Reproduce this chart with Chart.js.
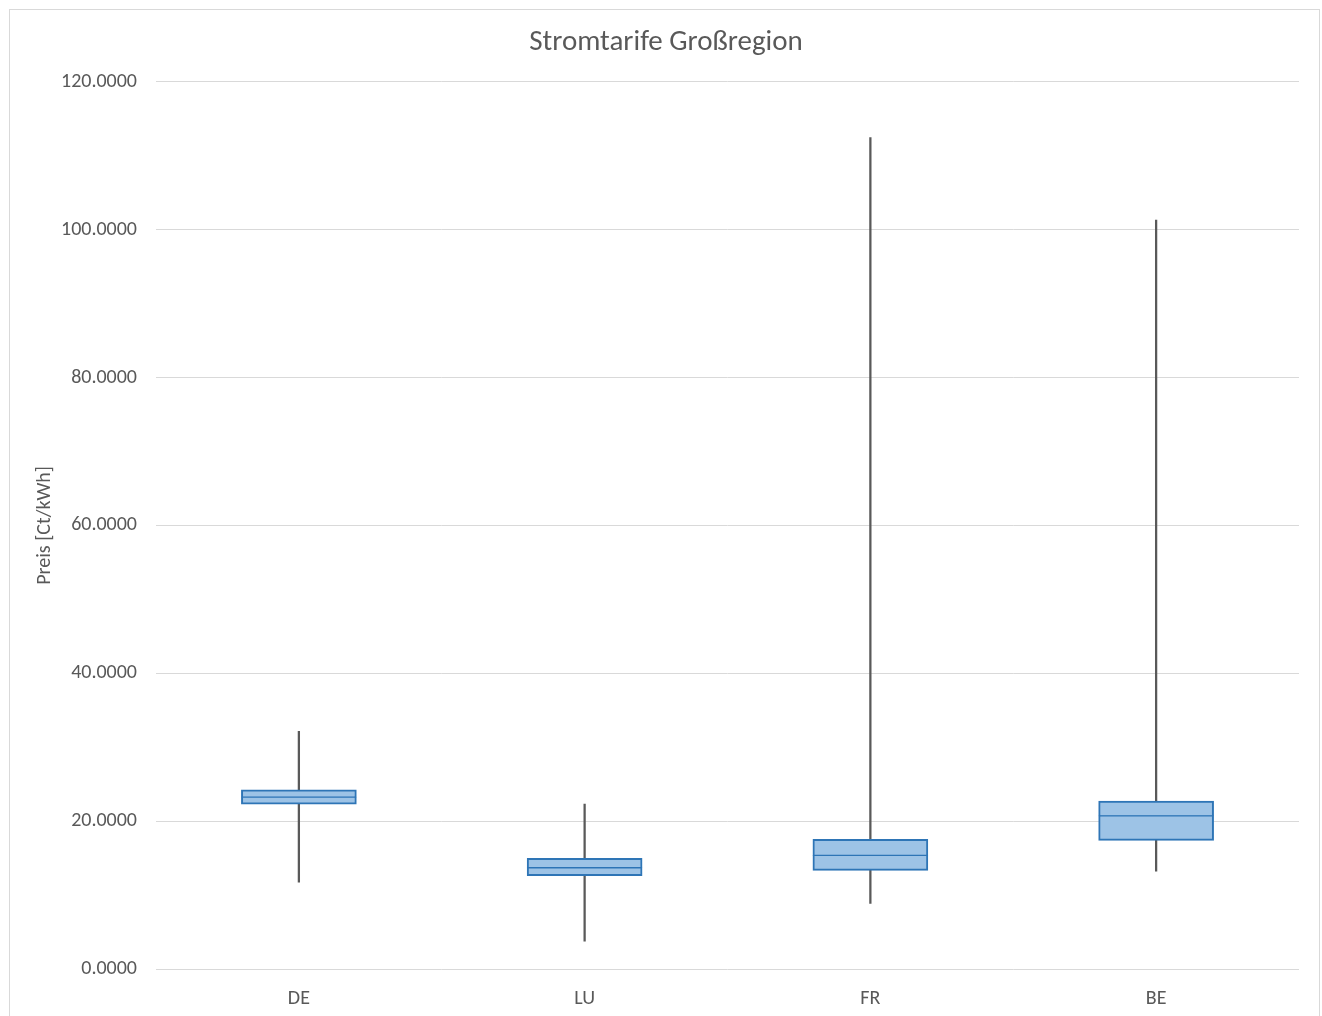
<!DOCTYPE html>
<html>
<head>
<meta charset="utf-8">
<title>Stromtarife Großregion</title>
<script src="https://cdn.jsdelivr.net/npm/chart.js@4/dist/chart.umd.min.js"></script>
<style>
  html, body { margin: 0; padding: 0; background: #ffffff; }
  #wrap { width: 1322px; height: 1016px; position: relative; }
</style>
</head>
<body>
<div id="wrap"><canvas id="chart" width="1322" height="1016"></canvas></div>
<script>
// Electricity tariffs per country (Ct/kWh): box-plot statistics
const categories   = ['DE', 'LU', 'FR', 'BE'];
const minValues    = [11.76, 3.78, 8.88, 13.24];
const q1Values     = [22.30, 12.61, 13.34, 17.39];
const medianValues = [23.24, 13.69, 15.36, 20.72];
const q3Values     = [24.23, 14.96, 17.53, 22.70];
const maxValues    = [32.16, 22.30, 112.47, 101.31];

const yTicks = [0, 20, 40, 60, 80, 100, 120];

const TEXT = '#595959';
const BOX_FILL = '#9DC3E6';
const BOX_LINE = '#2E75B6';
const WHISKER = '#595959';
const GRID = '#d9d9d9';
const FONT = "Carlito, Lato, 'Liberation Sans', sans-serif";

const whiskerData = categories.map((_, i) => [minValues[i], maxValues[i]]);
const lowerBox = categories.map((_, i) => [q1Values[i], medianValues[i]]);
const upperBox = categories.map((_, i) => [medianValues[i], q3Values[i]]);

// Light frame around the whole chart
const framePlugin = {
  id: 'frame',
  beforeDraw(chart) {
    const ctx = chart.ctx;
    ctx.save();
    ctx.fillStyle = '#ffffff';
    ctx.fillRect(0, 0, chart.width, chart.height);
    ctx.strokeStyle = '#d9d9d9';
    ctx.lineWidth = 1;
    ctx.strokeRect(9.5, 9.5, 1310, 1030);
    ctx.restore();
  }
};

new Chart(document.getElementById('chart'), {
  type: 'bar',
  data: {
    labels: categories,
    datasets: [
      {
        label: 'Whisker',
        data: whiskerData,
        backgroundColor: WHISKER,
        borderWidth: 0,
        barThickness: 1.6,
        grouped: false,
        order: 3
      },
      {
        label: 'Q1–Median',
        data: lowerBox,
        backgroundColor: BOX_FILL,
        borderColor: BOX_LINE,
        borderWidth: { top: 1, bottom: 2, left: 2, right: 2 },
        borderSkipped: false,
        barThickness: 115,
        grouped: false,
        order: 1
      },
      {
        label: 'Median–Q3',
        data: upperBox,
        backgroundColor: BOX_FILL,
        borderColor: BOX_LINE,
        borderWidth: { top: 2, bottom: 1, left: 2, right: 2 },
        borderSkipped: false,
        barThickness: 115,
        grouped: false,
        order: 1
      }
    ]
  },
  options: {
    responsive: false,
    animation: false,
    layout: { padding: { left: 33, right: 23, top: 0, bottom: 0 } },
    plugins: {
      legend: { display: false },
      tooltip: { enabled: false },
      title: {
        display: true,
        text: 'Stromtarife Großregion',
        color: TEXT,
        font: { family: FONT, size: 29, weight: 'normal' },
        padding: { top: 25, bottom: 22 }
      }
    },
    scales: {
      x: {
        grid: { display: false, drawTicks: false },
        border: { display: false },
        ticks: {
          color: TEXT,
          font: { family: FONT, size: 20 },
          padding: 18
        },
        afterFit(scale) { scale.height = 47; }
      },
      y: {
        min: 0,
        max: 120,
        afterBuildTicks(scale) { scale.ticks = yTicks.map(v => ({ value: v })); },
        grid: { color: GRID, lineWidth: 1, drawTicks: false },
        border: { display: false },
        ticks: {
          color: TEXT,
          font: { family: FONT, size: 20 },
          padding: 19,
          callback: v => Number(v).toFixed(4)
        },
        title: {
          display: true,
          text: 'Preis [Ct/kWh]',
          color: TEXT,
          font: { family: FONT, size: 20 },
          padding: { top: 0, bottom: 0 }
        },
        afterFit(scale) { scale.width = 156 - 33; }
      }
    }
  },
  plugins: [framePlugin]
});
</script>
</body>
</html>
